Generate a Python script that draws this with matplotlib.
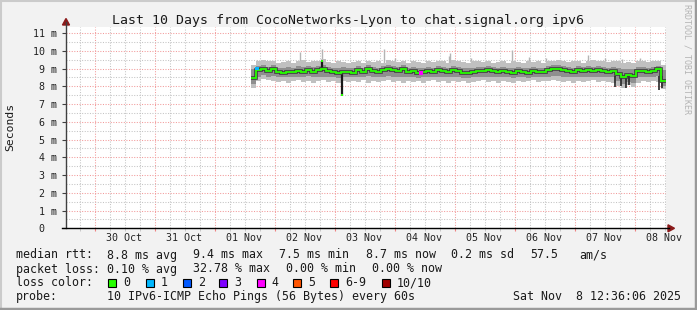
import numpy as np
import matplotlib
matplotlib.use("Agg")
import matplotlib.pyplot as plt
from matplotlib.patches import Rectangle, Polygon
from matplotlib.lines import Line2D
from matplotlib.ticker import MultipleLocator, FuncFormatter

# ---------------- data ----------------
# time in days since 29 Oct 00:00
x_start, x_end = 0.525, 10.525          # Oct 29 12:36 -> Nov 8 12:36
day_labels = ["30 Oct", "31 Oct", "01 Nov", "02 Nov", "03 Nov",
              "04 Nov", "05 Nov", "06 Nov", "07 Nov", "08 Nov"]
day_label_pos = [1.5, 2.5, 3.5, 4.5, 5.5, 6.5, 7.5, 8.5, 9.5, 10.5]

data_t0 = 3.60            # first sample (Nov 1 ~14:24)
bin_step = 1 / 12         # 2-hour bins
median_ms = [8.45, 8.90, 9.00, 8.85, 9.00, 8.80, 8.75, 8.80, 8.78, 8.85,
             8.80, 8.90, 8.80, 8.90, 8.95, 8.85, 8.80, 8.75, 8.80, 8.80,
             8.75, 8.90, 8.80, 8.95, 8.85, 8.80, 8.90, 9.00, 8.90, 8.85,
             8.95, 8.80, 8.85, 8.75, 8.80, 8.85, 8.80, 8.90, 8.85, 8.80,
             8.90, 8.85, 8.75, 8.75, 8.80, 8.85, 8.85, 8.90, 8.85, 8.80,
             8.85, 8.80, 8.75, 8.85, 8.80, 8.75, 8.85, 8.80, 8.80, 8.90,
             8.95, 9.00, 8.90, 8.85, 8.80, 8.90, 8.85, 8.90, 8.85, 8.90,
             8.85, 8.80, 8.85, 8.70, 8.55, 8.65, 8.60, 8.85, 8.85, 8.80,
             8.85, 8.95, 8.30]
light_hi = [9.20, 9.45, 9.50, 9.40, 9.45, 9.30, 9.35, 9.40, 9.30, 9.45,
            9.50, 9.35, 9.40, 9.45, 9.55, 9.35, 9.30, 9.40, 9.35, 9.30,
            9.35, 9.40, 9.30, 9.45, 9.35, 9.40, 9.30, 9.50, 9.40, 9.35,
            9.45, 9.30, 9.40, 9.35, 9.30, 9.40, 9.35, 9.45, 9.40, 9.30,
            9.50, 9.40, 9.35, 9.30, 9.40, 9.45, 9.35, 9.40, 9.30, 9.35,
            9.40, 9.30, 9.45, 9.35, 9.30, 9.40, 9.35, 9.45, 9.30, 9.40,
            9.45, 9.50, 9.40, 9.35, 9.45, 9.40, 9.30, 9.45, 9.50, 9.40,
            9.40, 9.35, 9.45, 9.40, 9.30, 9.35, 9.30, 9.40, 9.45, 9.35,
            9.40, 9.45, 9.20]
light_lo = [7.90, 8.30, 8.40, 8.35, 8.30, 8.25, 8.30, 8.20, 8.30, 8.35,
            8.25, 8.30, 8.20, 8.30, 8.35, 8.25, 8.30, 8.20, 8.30, 8.25,
            8.30, 8.25, 8.35, 8.20, 8.30, 8.25, 8.30, 8.35, 8.25, 8.30,
            8.20, 8.30, 8.25, 8.30, 8.20, 8.30, 8.35, 8.25, 8.30, 8.20,
            8.30, 8.25, 8.30, 8.20, 8.25, 8.30, 8.35, 8.25, 8.30, 8.20,
            8.30, 8.25, 8.20, 8.30, 8.25, 8.30, 8.35, 8.25, 8.30, 8.30,
            8.35, 8.30, 8.25, 8.30, 8.20, 8.30, 8.25, 8.30, 8.35, 8.25,
            8.30, 8.25, 8.20, 8.00, 7.90, 8.05, 7.95, 8.20, 8.30, 8.25,
            8.30, 8.25, 7.85]
mid_hi = [8.95, 9.15, 9.20, 9.10, 9.20, 9.05, 9.05, 9.10, 9.05, 9.15,
          9.10, 9.15, 9.10, 9.15, 9.20, 9.10, 9.05, 9.05, 9.10, 9.05,
          9.05, 9.15, 9.05, 9.20, 9.10, 9.05, 9.15, 9.20, 9.15, 9.10,
          9.20, 9.05, 9.10, 9.05, 9.05, 9.10, 9.05, 9.15, 9.10, 9.05,
          9.15, 9.10, 9.05, 9.05, 9.05, 9.10, 9.10, 9.15, 9.10, 9.05,
          9.10, 9.05, 9.05, 9.10, 9.05, 9.05, 9.10, 9.05, 9.05, 9.15,
          9.20, 9.20, 9.15, 9.10, 9.05, 9.15, 9.10, 9.15, 9.10, 9.15,
          9.10, 9.05, 9.10, 9.05, 8.95, 9.00, 8.95, 9.10, 9.10, 9.05,
          9.10, 9.15, 8.90]
mid_lo = [8.15, 8.55, 8.65, 8.55, 8.60, 8.50, 8.50, 8.55, 8.50, 8.55,
          8.50, 8.60, 8.50, 8.55, 8.55, 8.55, 8.50, 8.45, 8.50, 8.50,
          8.50, 8.55, 8.50, 8.60, 8.55, 8.50, 8.55, 8.60, 8.55, 8.50,
          8.55, 8.50, 8.55, 8.45, 8.50, 8.55, 8.50, 8.55, 8.55, 8.50,
          8.55, 8.55, 8.45, 8.45, 8.50, 8.55, 8.55, 8.55, 8.55, 8.50,
          8.55, 8.50, 8.45, 8.55, 8.50, 8.45, 8.55, 8.50, 8.50, 8.55,
          8.60, 8.60, 8.55, 8.55, 8.50, 8.55, 8.55, 8.55, 8.55, 8.55,
          8.55, 8.50, 8.50, 8.30, 8.15, 8.25, 8.20, 8.50, 8.55, 8.50,
          8.55, 8.60, 8.00]

# isolated upward smoke spikes (time in days, top in ms)
up_spike_t = [3.708, 4.425, 4.792, 5.825, 6.008, 6.908, 6.925, 7.275,
              7.958, 8.242, 8.525, 9.225, 9.508, 9.792, 10.092]
up_spike_v = [9.50, 9.95, 10.10, 10.10, 9.60, 9.70, 9.85, 9.60,
              10.05, 9.65, 9.60, 9.75, 9.60, 9.55, 9.60]
# dark downward spikes
down_spike_t = [9.683, 9.783, 9.850, 9.900, 10.408, 10.458]
down_spike_v = [7.95, 8.00, 7.90, 8.05, 7.80, 7.90]
# median excursions (max 9.4 / min 7.5)
med_spike_t = [4.792, 5.125]
med_spike_v = [9.40, 7.50]
# samples with loss (time, value, colour index)
loss_t = [3.708, 6.442]
loss_v = [9.00, 8.75]
loss_idx = [1, 4]

loss_labels = ["0", "1", "2", "3", "4", "5", "6-9", "10/10"]
loss_colors = ["#26ff00", "#00b8ff", "#0059ff", "#7e00ff",
               "#ff00ff", "#ff5500", "#ff0000", "#a10000"]

# ---------------- figure ----------------
W, H = 697, 310
MONO = "DejaVu Sans Mono"
plt.rcParams["font.family"] = MONO

fig = plt.figure(figsize=(W / 100, H / 100), dpi=100, facecolor="#f2f2f2")

def fx(px):
    return px / W

def fy(py):
    return 1 - py / H

ax_left, ax_right, ax_bottom, ax_top = 66, 666, 228.3, 27
ax = fig.add_axes([fx(ax_left), fy(ax_bottom), (ax_right - ax_left) / W,
                   (ax_bottom - ax_top) / H])
ax.set_facecolor("white")
ax.set_xlim(x_start, x_end)
ax.set_ylim(0, (ax_bottom - ax_top) / 17.75)
for s in ax.spines.values():
    s.set_visible(False)

ax.xaxis.set_major_locator(MultipleLocator(1))
ax.xaxis.set_minor_locator(MultipleLocator(0.25))
ax.yaxis.set_major_locator(MultipleLocator(1))
ax.yaxis.set_minor_locator(MultipleLocator(0.5))
ax.grid(which="major", color="#f29a9a", ls=(0, (1, 1.5)), lw=0.75, zorder=0)
ax.grid(which="minor", color="#c4c4c4", ls=(0, (1, 1.5)), lw=0.75, zorder=0)
ax.set_axisbelow(True)
ax.tick_params(axis="x", which="major", length=2.5, color="#f08080",
               labelbottom=False)
ax.tick_params(axis="x", which="minor", length=2.5, color="#c0c0c0")
ax.tick_params(axis="y", which="major", length=3, color="#404040",
               labelsize=7.2, pad=3.5, labelcolor="#222222")
ax.tick_params(axis="y", which="minor", length=0)
ax.yaxis.set_major_formatter(
    FuncFormatter(lambda v, p: "0  " if v == 0 else f"{int(round(v))} m"))

for tt, lab in zip(day_label_pos, day_labels):
    ax.text(tt, -(240.7 - ax_bottom) / (ax_bottom - ax_top), lab,
            transform=ax.get_xaxis_transform(), ha="center", va="baseline",
            fontsize=7.2, color="#222222")

# smoke
ax.vlines(up_spike_t, 8.8, up_spike_v, color="#b4b4b4", lw=1.0, zorder=2)
edges = data_t0 + bin_step * np.arange(len(median_ms))
ax.bar(edges, np.array(light_hi) - np.array(light_lo), bottom=light_lo,
       width=bin_step, align="edge", color="#c0c0c0", lw=0, zorder=3)
ax.bar(edges, np.array(mid_hi) - np.array(mid_lo), bottom=mid_lo,
       width=bin_step, align="edge", color="#8f8f8f", lw=0, zorder=4)
ax.vlines(down_spike_t, 8.6, down_spike_v, color="#262626", lw=1.2, zorder=5)
ax.vlines(med_spike_t, 8.85, med_spike_v, color="#1a1a1a", lw=1.6, zorder=5)

med_edges = data_t0 + bin_step * np.arange(len(median_ms) + 1)
ax.stairs(median_ms, med_edges, baseline=None, color="#3c3c3c", lw=2.6,
          zorder=6)
ax.stairs(median_ms, med_edges, baseline=None, color=loss_colors[0], lw=1.3,
          zorder=7)
ax.plot(med_spike_t, med_spike_v, "s", ms=2, color=loss_colors[0], zorder=8,
        mew=0)
ax.scatter(loss_t, loss_v, s=5, marker="s",
           c=[loss_colors[i] for i in loss_idx], zorder=8, linewidths=0)

# axis lines & arrows
fig.add_artist(Line2D([fx(66), fx(66)], [fy(ax_bottom), fy(22)],
                      color="#404040", lw=1))
fig.add_artist(Line2D([fx(62), fx(669)], [fy(ax_bottom), fy(ax_bottom)],
                      color="black", lw=1))
fig.add_artist(Polygon([[fx(66), fy(18.5)], [fx(62.5), fy(25)],
                        [fx(69.5), fy(25)]], closed=True,
                       transform=fig.transFigure, color="#8b1a1a"))
fig.add_artist(Polygon([[fx(674.5), fy(ax_bottom)], [fx(668), fy(224.8)],
                        [fx(668), fy(231.8)]], closed=True,
                       transform=fig.transFigure, color="#8b1a1a"))

# frame
fig.add_artist(Line2D([0, 1], [fy(0.5), fy(0.5)], color="#cbcbcb", lw=1.5))
fig.add_artist(Line2D([fx(0.5), fx(0.5)], [0, 1], color="#cbcbcb", lw=1.5))
fig.add_artist(Line2D([0, 1], [fy(309), fy(309)], color="#9a9a9a", lw=2.5))
fig.add_artist(Line2D([fx(696), fx(696)], [0, 1], color="#9a9a9a", lw=2.5))

# texts
TXT = "#1a1a1a"
fig.text(fx(347.5), fy(24), "Last 10 Days from CocoNetworks-Lyon to chat.signal.org ipv6",
         ha="center", va="baseline", fontsize=9.5, color=TXT)
fig.text(fx(10.5), fy(127), "Seconds", rotation=90, ha="center",
         va="center", fontsize=8.2, color=TXT)
fig.text(fx(687), fy(59), "RRDTOOL / TOBI OETIKER", rotation=270,
         ha="center", va="center", fontsize=6, color="#b4b4b4")

def t(px, py, s):
    fig.text(fx(px), fy(py), s, ha="left", va="baseline", fontsize=8.4,
             color=TXT)

r1, r2, r3, r4 = 258.5, 272.5, 286.5, 300.3
t(16, r1, "median rtt:")
t(107.3, r1, "8.8 ms avg")
t(193.3, r1, "9.4 ms max")
t(279.3, r1, "7.5 ms min")
t(365.7, r1, "8.7 ms now")
t(451, r1, "0.2 ms sd")
t(530, r1, "57.5")
t(579.3, r1, "am/s")
t(16, r2, "packet loss:")
t(107.3, r2, "0.10 % avg")
t(193.3, r2, "32.78 % max")
t(286, r2, "0.00 % min")
t(372.3, r2, "0.00 % now")
t(16, r3, "loss color:")
sq_left = [108.3, 146, 182.7, 219.3, 256.7, 293.3, 330, 381.7]
for x0, lab, col in zip(sq_left, loss_labels, loss_colors):
    fig.add_artist(Rectangle((fx(x0), fy(286.5)), 8 / W, 8 / H,
                             transform=fig.transFigure, fc=col, ec="black",
                             lw=0.8))
    t(x0 + 15, r3, lab)
t(16, r4, "probe:")
t(107.3, r4, "10 IPv6-ICMP Echo Pings (56 Bytes) every 60s")
t(513.3, r4, "Sat Nov  8 12:36:06 2025")

fig.savefig("out.png", dpi=100, facecolor=fig.get_facecolor())
